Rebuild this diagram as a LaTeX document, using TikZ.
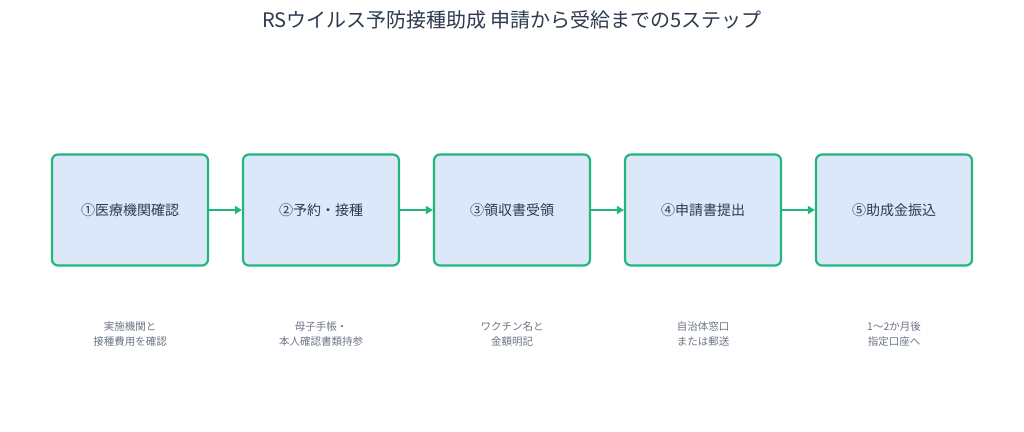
\documentclass[tikz,border=0pt]{standalone}
\usepackage{fontspec}
\setmainfont{Noto Sans CJK JP}
\usetikzlibrary{arrows.meta}
\definecolor{bd}{HTML}{22B77A}
\definecolor{fl}{HTML}{DCE8FA}
\definecolor{tx}{HTML}{2D3A4F}
\definecolor{cap}{HTML}{6B7585}
\begin{document}
\begin{tikzpicture}[x=1pt,y=-1pt,
 box/.style={draw=bd,line width=2.2pt,fill=fl,rounded corners=6pt,minimum width=156pt,minimum height=111pt,inner sep=0pt,font=\fontsize{14}{16}\selectfont,text=tx},
 capt/.style={align=center,font=\fontsize{10.5}{15}\selectfont,text=cap},
 arr/.style={draw=bd,line width=2.2pt,-{Triangle[length=7pt,width=8pt]}}]
\useasboundingbox (0,0) rectangle (1024,431);
\node[font=\fontsize{20}{24}\selectfont,text=tx] (t) at (512,20) {RSウイルス予防接種助成 申請から受給までの5ステップ};
\node[box] (b1) at (130,210) {①医療機関確認};
\node[box] (b2) at (321,210) {②予約・接種};
\node[box] (b3) at (512,210) {③領収書受領};
\node[box] (b4) at (703,210) {④申請書提出};
\node[box] (b5) at (894,210) {⑤助成金振込};
\draw[arr] (b1) -- (b2);
\draw[arr] (b2) -- (b3);
\draw[arr] (b3) -- (b4);
\draw[arr] (b4) -- (b5);
\node[capt] (c1) at (130,334) {実施機関と\\接種費用を確認};
\node[capt] (c2) at (321,334) {母子手帳・\\本人確認書類持参};
\node[capt] (c3) at (512,334) {ワクチン名と\\金額明記};
\node[capt] (c4) at (703,334) {自治体窓口\\または郵送};
\node[capt] (c5) at (894,334) {1〜2か月後\\指定口座へ};
\end{tikzpicture}
\end{document}
